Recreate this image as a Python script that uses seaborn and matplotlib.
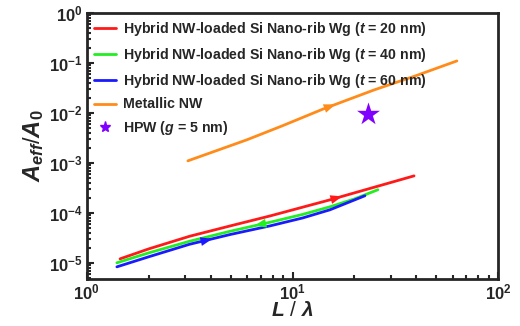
import numpy as np
import pandas as pd
import seaborn as sns
import matplotlib
matplotlib.use("Agg")
import matplotlib.pyplot as plt

sns.set_style("ticks")
plt.rcParams['font.family'] = ['Liberation Sans', 'DejaVu Sans']
plt.rcParams['font.weight'] = 'bold'
plt.rcParams['mathtext.fontset'] = 'custom'
plt.rcParams['mathtext.it'] = 'Liberation Sans:italic:bold'
plt.rcParams['mathtext.rm'] = 'Liberation Sans:bold'
plt.rcParams['mathtext.bf'] = 'Liberation Sans:bold'

# data
names = ["Hybrid NW-loaded Si Nano-rib Wg ($t$ = 20 nm)",
         "Hybrid NW-loaded Si Nano-rib Wg ($t$ = 40 nm)",
         "Hybrid NW-loaded Si Nano-rib Wg ($t$ = 60 nm)",
         "Metallic NW"]
colors = ["#ff1a1a", "#22ee22", "#1a1aff", "#ff8c1a"]

x_t20 = [1.45, 2.0, 3.16, 5.0, 7.8, 15.2, 39]
y_t20 = [1.2e-5, 1.9e-5, 3.4e-5, 5.5e-5, 8.7e-5, 1.82e-4, 5.5e-4]
x_t40 = [1.4, 2.0, 3.16, 5.0, 7.8, 11.2, 15.2, 20, 26]
y_t40 = [1.0e-5, 1.58e-5, 2.7e-5, 4.3e-5, 6.5e-5, 9.3e-5, 1.32e-4, 1.9e-4, 2.9e-4]
x_t60 = [1.4, 2.0, 3.16, 5.0, 7.8, 11.2, 15.2, 22.5]
y_t60 = [8.3e-6, 1.32e-5, 2.35e-5, 3.7e-5, 5.5e-5, 7.9e-5, 1.15e-4, 2.2e-4]
x_nw = [3.1, 4.5, 6.0, 8.9, 14.1, 25, 40, 63]
y_nw = [1.1e-3, 1.9e-3, 2.9e-3, 5.5e-3, 1.2e-2, 2.9e-2, 5.6e-2, 0.11]

hpw_x = [23.4]
hpw_y = [9.5e-3]

# where the direction arrows sit (x value, direction)
arrows = [(15.2, 1), (7.5, -1), (3.55, 1), (14.1, 1)]

xs = [x_t20, x_t40, x_t60, x_nw]
ys = [y_t20, y_t40, y_t60, y_nw]
df = pd.concat([pd.DataFrame({"L": x, "A": y, "s": n}) for x, y, n in zip(xs, ys, names)])

fig, ax = plt.subplots(figsize=(5.2, 3.26), dpi=100)
fig.subplots_adjust(left=0.167, right=0.958, top=0.96, bottom=0.145)

sns.lineplot(data=df, x="L", y="A", hue="s", palette=dict(zip(names, colors)),
             sort=False, estimator=None, linewidth=2, ax=ax, legend=False)
ax.set_xscale("log")
ax.set_yscale("log")

for x, y, c, (ax_x, d) in zip(xs, ys, colors, arrows):
    lx, ly = np.log10(x), np.log10(y)
    x1 = ax_x * 10 ** (0.06 * d)
    y0 = 10 ** np.interp(np.log10(ax_x), lx, ly)
    y1 = 10 ** np.interp(np.log10(x1), lx, ly)
    ax.annotate("", xy=(x1, y1), xytext=(ax_x, y0),
                arrowprops=dict(arrowstyle="-|>,head_length=0.85,head_width=0.32",
                                color=c, lw=0, shrinkA=0, shrinkB=0))

ax.scatter(hpw_x, hpw_y, marker="*", s=300, color="#8000ff", zorder=5, linewidths=0)

handles = [plt.Line2D([], [], color=c, lw=2) for c in colors]
handles.append(plt.Line2D([], [], color="#8000ff", marker="*", ls="", ms=8))
labels = names + ["HPW ($g$ = 5 nm)"]
ax.legend(handles, labels, loc="upper left", frameon=False, fontsize=10.2,
          handlelength=1.55, handletextpad=0.5, labelspacing=0.55,
          borderaxespad=0.3, borderpad=0.2)

ax.set_xlim(1, 100)
ax.set_ylim(4.8e-6, 1)
ax.set_xlabel(r"$L$ / $\lambda$", fontsize=15, labelpad=-1)
ax.set_ylabel(r"$A_{eff}$/$A_0$", fontsize=17, labelpad=2)
ax.tick_params(which="both", direction="in", top=False, right=False, labelsize=12, width=1.5)
ax.tick_params(which="major", length=5, pad=3)
ax.tick_params(which="minor", length=3)
for sp in ax.spines.values():
    sp.set_linewidth(2)
    sp.set_visible(True)

fig.savefig("out.png", dpi=100)
